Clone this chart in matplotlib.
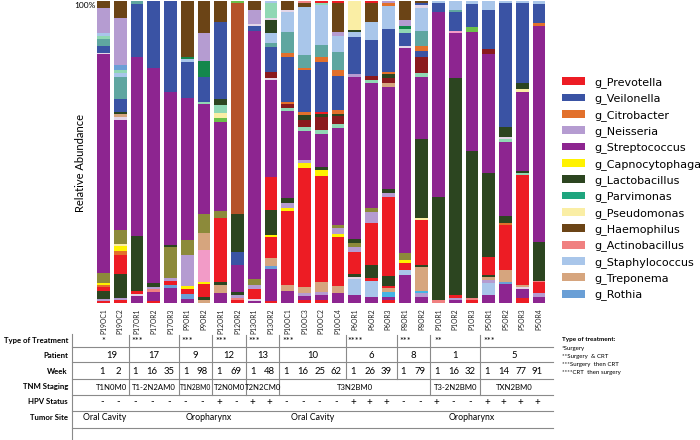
import matplotlib
matplotlib.use("Agg")
import matplotlib.pyplot as plt
from matplotlib.patches import Patch

# ---------------- data ----------------
samples = ["P19OC1", "P19OC2", "P17OR1", "P17OR2", "P17OR3", "P9OR1", "P9OR2",
           "P12OR1", "P12OR2", "P13OR1", "P13OR2", "P10OC1", "P10OC3", "P10OC2",
           "P10OC4", "P6OR1", "P6OR2", "P6OR3", "P8OR1", "P8OR2", "P1OR1", "P1OR2",
           "P1OR3", "P5OR1", "P5OR2", "P5OR3", "P5OR4"]

# segments of each bar, listed from the TOP of the bar down: (genus key, % abundance)
P19OC1 = [('H', 2.4), ('N', 8.3), ('St', 1.0), ('Mi', 0.8), ('Tl', 2.4), ('B', 2.2), ('Lt', 0.5), ('S', 72.4), ('O', 3.5), ('Y', 0.6), ('C', 0.5), ('R', 1.4), ('L', 2.8), ('N', 0.5), ('R', 0.7)]
P19OC2 = [('H', 5.7), ('N', 15.5), ('Ro', 1.7), ('Mi', 0.9), ('St', 1.3), ('Tl', 7.4), ('B', 4.2), ('L', 0.8), ('T', 0.9), ('Lt', 0.9), ('S', 36.6), ('O', 4.4), ('Ps', 0.9), ('Y', 1.5), ('C', 1.4), ('R', 6.3), ('L', 8.1), ('N', 0.5), ('R', 1.0)]
P17OR1 = [('Tl', 1.0), ('B', 17.4), ('S', 59.3), ('L', 18.2), ('R', 1.1), ('Lt', 0.7), ('S', 2.3)]
P17OR2 = [('B', 22.3), ('S', 71.2), ('L', 1.3), ('N', 0.7), ('A', 0.8), ('S', 3.1), ('R', 0.6)]
P17OR3 = [('B', 30.0), ('S', 50.8), ('L', 0.8), ('O', 10.0), ('N', 1.1), ('R', 1.3), ('Ro', 1.1), ('S', 4.9)]
P9OR1 = [('H', 18.4), ('G', 0.8), ('St', 1.1), ('B', 11.9), ('S', 46.9), ('O', 5.0), ('N', 10.3), ('Y', 1.1), ('R', 1.5), ('Ro', 1.8), ('S', 1.2)]
P9OR2 = [('H', 10.5), ('N', 9.3), ('G', 5.5), ('B', 8.1), ('Mi', 0.9), ('S', 36.4), ('O', 6.1), ('T', 5.7), ('Pk', 10.5), ('Y', 0.8), ('R', 4.2), ('L', 1.1), ('T', 1.0)]
P12OR1 = [('H', 6.8), ('B', 25.7), ('L', 1.9), ('Mi', 2.8), ('Ps', 1.7), ('LG', 1.1), ('S', 29.6), ('O', 2.4), ('R', 21.0), ('L', 1.1), ('T', 2.5), ('S', 3.4)]
P12OR2 = [('LG', 0.8), ('Si', 69.8), ('L', 12.7), ('B', 4.2), ('S', 8.8), ('L', 1.1), ('N', 0.9), ('A', 0.8), ('R', 1.0)]
P13OR1 = [('H', 3.0), ('N', 4.6), ('Lt', 0.6), ('B', 1.8), ('S', 82.2), ('O', 1.9), ('N', 1.3), ('R', 3.3), ('Lt', 0.5), ('S', 0.8)]
P13OR2 = [('St', 0.8), ('Mi', 5.0), ('Lt', 0.5), ('L', 4.4), ('St', 3.1), ('Tl', 1.3), ('B', 8.3), ('DR', 2.0), ('Lt', 0.8), ('S', 32.0), ('R', 11.0), ('L', 8.3), ('Y', 0.8), ('R', 7.0), ('T', 2.4), ('Ro', 1.2), ('S', 10.5), ('R', 0.7)]
P10OC1 = [('H', 3.0), ('Lt', 0.5), ('St', 6.6), ('Tl', 7.2), ('C', 1.3), ('B', 14.7), ('C', 0.8), ('DR', 1.4), ('Mi', 0.9), ('S', 28.9), ('L', 1.7), ('N', 1.4), ('Y', 1.0), ('R', 24.6), ('T', 2.0), ('S', 4.0)]
P10OC3 = [('A', 0.8), ('H', 1.3), ('St', 15.8), ('Tl', 4.2), ('C', 0.8), ('B', 13.8), ('C', 1.1), ('L', 1.7), ('DR', 2.4), ('Mi', 1.1), ('S', 9.7), ('N', 0.9), ('Y', 1.9), ('R', 39.2), ('T', 2.2), ('N', 0.8), ('S', 1.4), ('R', 1.0)]
P10OC2 = [('R', 0.6), ('Mi', 0.8), ('St', 13.2), ('Tl', 4.1), ('C', 1.4), ('B', 16.6), ('R', 0.9), ('L', 1.0), ('DR', 4.2), ('Mi', 1.4), ('S', 10.9), ('L', 0.9), ('Y', 2.0), ('R', 35.0), ('T', 3.6), ('N', 0.8), ('S', 1.7), ('R', 1.0)]
P10OC4 = [('R', 0.6), ('H', 9.6), ('N', 1.4), ('St', 5.2), ('Tl', 6.1), ('C', 2.0), ('B', 11.3), ('C', 1.1), ('L', 0.9), ('DR', 2.6), ('Mi', 1.4), ('S', 32.0), ('O', 1.1), ('N', 1.7), ('Y', 1.3), ('R', 16.1), ('T', 2.4), ('S', 3.2)]
P6OR1 = [('Ps', 9.6), ('L', 0.6), ('St', 1.7), ('B', 12.4), ('N', 0.9), ('S', 53.9), ('L', 1.3), ('O', 1.1), ('N', 1.9), ('R', 7.2), ('L', 0.9), ('Lt', 0.9), ('St', 5.2), ('S', 2.6)]
P6OR2 = [('R', 0.6), ('H', 6.3), ('St', 6.1), ('B', 11.9), ('DR', 1.3), ('Mi', 0.9), ('S', 41.6), ('O', 1.1), ('N', 3.9), ('R', 13.8), ('L', 4.4), ('R', 0.8), ('St', 5.3), ('S', 2.1)]
P6OR3 = [('N', 0.8), ('C', 0.9), ('St', 7.7), ('B', 14.0), ('C', 0.8), ('L', 1.2), ('DR', 1.9), ('T', 1.3), ('S', 33.8), ('L', 1.1), ('N', 1.3), ('R', 26.3), ('L', 3.3), ('R', 0.8), ('T', 1.1), ('Sk', 1.7), ('S', 1.1), ('R', 1.0)]
P8OR1 = [('H', 6.3), ('N', 2.0), ('G', 1.1), ('Mi', 1.3), ('B', 4.2), ('Lt', 0.8), ('S', 67.9), ('O', 2.2), ('Y', 1.1), ('R', 2.2), ('St', 1.7), ('S', 9.3)]
P8OR2 = [('H', 0.6), ('B', 0.8), ('Lt', 0.8), ('St', 7.7), ('Tl', 5.1), ('C', 1.5), ('B', 2.2), ('DR', 5.3), ('Mi', 1.3), ('S', 20.5), ('L', 26.2), ('Ps', 0.8), ('R', 14.7), ('L', 0.6), ('T', 8.1), ('Sk', 0.8), ('N', 1.1), ('S', 2.1)]
P1OR1 = [('St', 0.8), ('B', 2.8), ('S', 61.5), ('L', 34.0), ('A', 1.0)]
P1OR2 = [('St', 3.0), ('Tl', 0.5), ('B', 6.6), ('Pk', 0.6), ('S', 14.7), ('L', 72.0), ('R', 0.9), ('N', 0.8), ('S', 1.0)]
P1OR3 = [('St', 1.0), ('B', 7.7), ('LG', 1.7), ('S', 39.2), ('L', 48.7), ('A', 0.8), ('R', 1.0)]
P5OR1 = [('St', 3.0), ('B', 13.0), ('DR', 1.5), ('S', 39.3), ('L', 28.0), ('R', 6.0), ('L', 0.7), ('T', 0.9), ('N', 1.1), ('St', 3.9), ('S', 2.6)]
P5OR2 = [('St', 0.8), ('B', 40.8), ('L', 3.5), ('Lt', 0.7), ('Mi', 1.0), ('S', 24.4), ('L', 2.4), ('C', 0.8), ('R', 14.7), ('T', 3.9), ('Ro', 0.8), ('S', 6.3)]
P5OR3 = [('St', 0.6), ('B', 26.7), ('L', 2.0), ('Ps', 0.8), ('S', 26.2), ('L', 0.7), ('Mi', 0.8), ('R', 36.4), ('T', 0.8), ('Lt', 0.7), ('S', 3.0), ('R', 1.5)]
P5OR4 = [('St', 1.0), ('B', 6.4), ('C', 0.9), ('S', 71.4), ('L', 12.9), ('A', 0.6), ('R', 3.6), ('N', 1.3), ('S', 1.9)]

bars = [P19OC1, P19OC2, P17OR1, P17OR2, P17OR3, P9OR1, P9OR2, P12OR1, P12OR2,
        P13OR1, P13OR2, P10OC1, P10OC3, P10OC2, P10OC4, P6OR1, P6OR2, P6OR3,
        P8OR1, P8OR2, P1OR1, P1OR2, P1OR3, P5OR1, P5OR2, P5OR3, P5OR4]

# legend genera (key, label)
legend_keys = ['R', 'B', 'C', 'N', 'S', 'Y', 'L', 'P', 'Ps', 'H', 'A', 'St', 'T', 'Ro']
legend_labels = ['g_Prevotella', 'g_Veilonella', 'g_Citrobacter', 'g_Neisseria',
                 'g_Streptococcus', 'g_Capnocytophaga', 'g_Lactobacillus',
                 'g_Parvimonas', 'g_Pseudomonas', 'g_Haemophilus',
                 'g_Actinobacillus', 'g_Staphylococcus', 'g_Treponema', 'g_Rothia']

# table rows
patients = ['19', '17', '9', '12', '13', '10', '6', '8', '1', '5']
patient_sizes = [2, 3, 2, 2, 2, 4, 3, 2, 3, 4]
treatment = ['*', '***', '***', '***', '***', '***', '****', '***', '**', '***']
weeks = [1, 2, 1, 16, 35, 1, 98, 1, 69, 1, 48, 1, 16, 25, 62, 1, 26, 39, 1, 79,
         1, 16, 32, 1, 14, 77, 91]
tnm = ['T1N0M0', 'T1-2N2AM0', 'T1N2BM0', 'T2N0M0', 'T2N2CM0', 'T3N2BM0', 'T3-2N2BM0', 'TXN2BM0']
tnm_sizes = [2, 3, 2, 2, 2, 9, 3, 4]
hpv = ['-', '-', '-', '-', '-', '-', '-', '+', '-', '+', '+', '-', '-', '-', '-',
       '+', '+', '+', '-', '-', '+', '-', '-', '+', '+', '+', '+']
sites = ['Oral Cavity', 'Oropharynx', 'Oral Cavity', 'Oropharynx']
treatment_notes = ['*Surgery', '**Surgery  & CRT', '***Surgery  then CRT', '****CRT  then surgery']

# ---------------- styles ----------------
colors = {
    'R': '#ED1C24', 'B': '#3A53A4', 'C': '#E2702B', 'N': '#B59CD1', 'S': '#8D2590',
    'Y': '#FFF200', 'L': '#2C4520', 'P': '#1EA57E', 'Ps': '#FAEEA5', 'H': '#6B4416',
    'A': '#F08080', 'St': '#A9C6EA', 'T': '#D6A57E', 'Ro': '#6A9FD6',
    'O': '#8C8A3A', 'Tl': '#5FA6A0', 'Pk': '#F29BC7', 'DR': '#8A1A1E', 'Mi': '#90D8B4',
    'LG': '#6CC04A', 'Sk': '#45B4E4', 'Si': '#B5532A', 'G': '#14874C', 'Lt': '#E4D6E8',
}
FONT = 'Lato'
W, H = 700, 440
x0_px, step_px = 103.5, 16.75  # bar 0 centre and bar pitch in pixels

fig = plt.figure(figsize=(7, 4.4), dpi=100)

# ---------------- bar axes ----------------
ax = fig.add_axes([90 / W, (H - 303) / H, 463 / W, 302 / H])
ax.set_xlim((90 - x0_px) / step_px, (553 - x0_px) / step_px)
ax.set_ylim(0, 100)
for i, segs in enumerate(bars):
    tot = sum(v for _, v in segs)
    bottom = 0.0
    for key, v in reversed(segs):
        h = v * 100.0 / tot
        ax.bar(i, h, bottom=bottom, width=0.76, color=colors[key], linewidth=0)
        bottom += h
for s in ax.spines.values():
    s.set_visible(False)
ax.set_yticks([])
ax.set_xticks(range(len(samples)))
ax.set_xticklabels(samples, rotation=90, fontsize=4.9, family=FONT, color='#222222')
ax.tick_params(axis='x', length=0, pad=3.8)

fig.text(96 / W, 1 - 5 / H, '100%', ha='right', va='center', fontsize=6, family=FONT)
fig.text(80 / W, 1 - 163 / H, 'Relative Abundance', rotation=90, ha='center',
         va='center', fontsize=8, family=FONT)

# ---------------- legend ----------------
handles = [Patch(facecolor=colors[k], edgecolor='none') for k in legend_keys]
fig.legend(handles, legend_labels, loc='upper left',
           bbox_to_anchor=(562 / W, 1 - 77 / H), frameon=False, fontsize=8,
           handlelength=2.1, handleheight=0.7, handletextpad=0.8,
           labelspacing=0.49, borderaxespad=0, borderpad=0)

# ---------------- table (overlay in pixel-y, bar-index x) ----------------
tax = fig.add_axes([0, 0, 1, 1], zorder=-1)
tax.set_xlim(-x0_px / step_px, (W - x0_px) / step_px)
tax.set_ylim(H, 0)
tax.axis('off')
tax.patch.set_alpha(0)

def px(xp):
    return (xp - x0_px) / step_px

line_kw = dict(color='#8a8a8a', lw=0.8)
xl, xr = px(72), px(553)
for yy in [347, 362, 379, 395, 411, 428]:
    tax.plot([xl, xr], [yy, yy], **line_kw)
tax.plot([xl, xl], [334, 440], **line_kw)

row_names = ['Type of Treatment', 'Patient', 'Week', 'TNM Staging', 'HPV Status', 'Tumor Site']
row_y = [341, 355, 371, 387, 402, 418]
for name, yy in zip(row_names, row_y):
    tax.text(px(68), yy, name, ha='right', va='center', fontsize=5.6,
             fontweight='bold', family=FONT)

# patient groups
start = 0
for pt, n, tr in zip(patients, patient_sizes, treatment):
    end = start + n - 1
    tax.text((start + end) / 2, 355, pt, ha='center', va='center', fontsize=6.8, family=FONT)
    tax.text(start, 341, tr, ha='center', va='center', fontsize=6.5, family=FONT)
    if start > 0:
        tax.plot([start - 0.5, start - 0.5], [335, 379], **line_kw)
    start += n

for i, wk in enumerate(weeks):
    tax.text(i - 0.1, 371, str(wk), ha='center', va='center', fontsize=6.8, family=FONT)
for i, hv in enumerate(hpv):
    tax.text(i - 0.1, 402, hv, ha='center', va='center', fontsize=7, family=FONT)

start = 0
for lab, n in zip(tnm, tnm_sizes):
    end = start + n - 1
    fs = 4.8 if lab == 'T1N2BM0' else 5.6
    tax.text((start + end) / 2, 387, lab, ha='center', va='center', fontsize=fs, family=FONT)
    if start > 0:
        tax.plot([start - 0.5, start - 0.5], [379, 395], **line_kw)
    start += n

site_x = [0.05, 6.3, 12.5, 22.0]
for lab, xx in zip(sites, site_x):
    tax.text(xx, 418, lab, ha='center', va='center', fontsize=6.3, family=FONT)

# treatment key
fig.text(562 / W, 1 - 340 / H, 'Type of treatment:', ha='left', va='center',
         fontsize=4.6, fontweight='bold', family=FONT)
for k, note in enumerate(treatment_notes):
    fig.text(562 / W, 1 - (348 + 8 * k) / H, note, ha='left', va='center',
             fontsize=4.4, family=FONT)

fig.savefig('out.png', dpi=100)
